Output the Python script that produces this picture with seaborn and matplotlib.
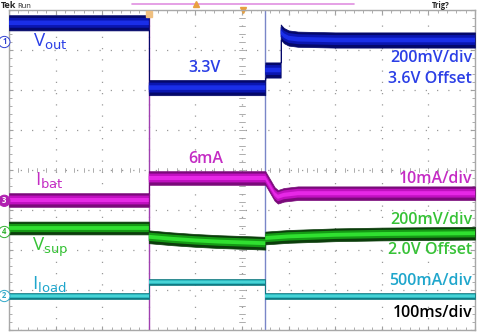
import numpy as np
import pandas as pd
import matplotlib
matplotlib.use("Agg")
import matplotlib.pyplot as plt
import seaborn as sns

# ---- data (time in ms, level in divisions from the bottom of the screen) ----
vout_t = [0, 300, 300, 550, 550, 583, 583, 590, 600, 620, 700, 1000]
vout_y = [7.68, 7.68, 6.06, 6.06, 6.50, 6.50, 7.45, 7.36, 7.30, 7.27, 7.25, 7.25]

ibat_t = [0, 300, 300, 550, 560, 570, 577, 590, 620, 1000]
ibat_y = [3.25, 3.25, 3.80, 3.80, 3.60, 3.40, 3.33, 3.38, 3.42, 3.42]

vsup_t = [0, 300, 300, 350, 400, 450, 500, 550, 550, 600, 700, 800, 1000]
vsup_y = [2.55, 2.55, 2.33, 2.28, 2.24, 2.21, 2.19, 2.17, 2.30, 2.34, 2.38, 2.40, 2.42]

iload_t = [0, 300, 300, 550, 550, 1000]
iload_y = [0.85, 0.85, 1.20, 1.20, 0.85, 0.85]

step_times = [300, 550]

labels_right = [
    ("200mV/div", 6.80, "#2b3fe6"),
    ("3.6V Offset", 6.27, "#2b3fe6"),
    ("10mA/div", 3.77, "#c42cc4"),
    ("200mV/div", 2.75, "#36c236"),
    ("2.0V Offset", 2.00, "#36c236"),
    ("500mA/div", 1.22, "#1fa6cc"),
    ("100ms/div", 0.42, "#000000"),
]

# ---- figure ----
sns.set_theme(style="white")
plt.rcParams["font.family"] = ["Open Sans", "DejaVu Sans"]

W, H = 494, 335
fig = plt.figure(figsize=(W / 100, H / 100), dpi=100)
ax = fig.add_axes([9 / W, 5 / H, 466 / W, 320 / H])
ax.set_xlim(0, 1000)
ax.set_ylim(0, 8)

# grid
ax.set_xticks(np.arange(0, 1001, 100))
ax.set_yticks(np.arange(0, 8.01, 1))
ax.set_xticks(np.arange(0, 1001, 20), minor=True)
ax.set_yticks(np.arange(0, 8.01, 0.2), minor=True)
ax.tick_params(which="both", direction="in", top=True, right=True, bottom=True, left=True,
               labelbottom=False, labelleft=False, color="#a0a0a0")
ax.tick_params(which="major", length=3, width=0.8)
ax.tick_params(which="minor", length=2, width=0.6)
ax.grid(True, which="major", color="#9a9a9a", linestyle=(0, (1, 8)), linewidth=0.9)
for s in ax.spines.values():
    s.set_color("#a8a8a8")
    s.set_linewidth(1.0)

# centre cross ticks
for xv in np.arange(0, 1001, 20):
    ax.plot([xv, xv], [3.95, 4.05], color="#a0a0a0", lw=0.6, zorder=1)
for yv in np.arange(0, 8.01, 0.2):
    ax.plot([493, 507], [yv, yv], color="#a0a0a0", lw=0.6, zorder=1)

# step marker lines
for st, c in zip(step_times, ["#a040b0", "#7a86c8"]):
    ax.axvline(st, color=c, lw=1.0, zorder=2)

def trace(t, y, hw, colors):
    t = np.asarray(t, float)
    y = np.asarray(y, float)
    for frac, c in zip([1.0, 0.65, 0.3], colors):
        ax.fill_between(t, y - hw * frac, y + hw * frac, color=c, lw=0.5,
                        edgecolor=c if frac == 1.0 else "none", zorder=3)
    df = pd.DataFrame({"t": t, "y": y})
    sns.lineplot(data=df, x="t", y="y", ax=ax, color=colors[-1], lw=0.0,
                 sort=False, estimator=None, zorder=4, legend=False)

trace(vout_t, vout_y, 0.19, ["#04086a", "#0a16b0", "#1a2ee8"])
trace(ibat_t, ibat_y, 0.17, ["#7a0a7a", "#c010c0", "#e628e6"])
trace(vsup_t, vsup_y, 0.16, ["#0b3d0b", "#159a15", "#30e030"])
trace(iload_t, iload_y, 0.065, ["#0f7a82", "#2cb8bf", "#48d4d6"])
ax.set_xlabel("")
ax.set_ylabel("")

# labels
fs = 11.5
kw = dict(fontweight="semibold", zorder=10)
ax.text(52, 7.2, r"V$_{\mathrm{out}}$", color="#2b3fe6", fontsize=13.5, va="center", zorder=10)
ax.text(385, 6.54, "3.3V", color="#2b3fe6", fontsize=fs, va="center", **kw)
ax.text(385, 4.27, "6mA", color="#c42cc4", fontsize=fs, va="center", **kw)
ax.text(55, 3.72, r"I$_{\mathrm{bat}}$", color="#c42cc4", fontsize=13.5, va="center", zorder=10)
ax.text(50, 2.08, r"V$_{\mathrm{sup}}$", color="#36c236", fontsize=13.5, va="center", zorder=10)
ax.text(50, 1.13, r"I$_{\mathrm{load}}$", color="#1fa6cc", fontsize=13.5, va="center", zorder=10)
for txt, yv, c in labels_right:
    ax.text(994, yv, txt, color=c, fontsize=fs, va="center", ha="right", **kw)

# channel badges on the left edge
badges = [("1", 7.2, "#3040d0"), ("3", 3.23, "#b020b0"), ("4", 2.45, "#30b030"), ("2", 0.85, "#30a8c8")]
for lab, yv, c in badges:
    ax.text(-10, yv, lab, color=c if lab != "3" else "white", fontsize=5.5, ha="center", va="center",
            clip_on=False, fontweight="bold",
            bbox=dict(boxstyle="circle,pad=0.15", fc="white" if lab != "3" else c, ec=c, lw=0.7))

# header
fig.text(1 / W, 1 - 6 / H, "Tek", fontsize=6.5, fontweight="bold", va="center", ha="left")
fig.text(17 / W, 1 - 6 / H, "Run", fontsize=5.5, va="center", ha="left")
fig.text(432 / W, 1 - 6 / H, "Trig?", fontsize=5.5, va="center", ha="left", fontweight="bold")
ax.plot([264, 740], [8.15, 8.15], color="#e090e0", lw=1.2, clip_on=False)
ax.plot([402], [8.15], marker="^", color="#e8a040", ms=4, clip_on=False)
ax.plot([502], [8.0], marker="v", color="#e8a040", ms=4, clip_on=False)
ax.plot([300], [7.9], marker="s", color="#f0c080", ms=4, clip_on=False, zorder=6)

fig.savefig("out.png", dpi=100, facecolor="white")
